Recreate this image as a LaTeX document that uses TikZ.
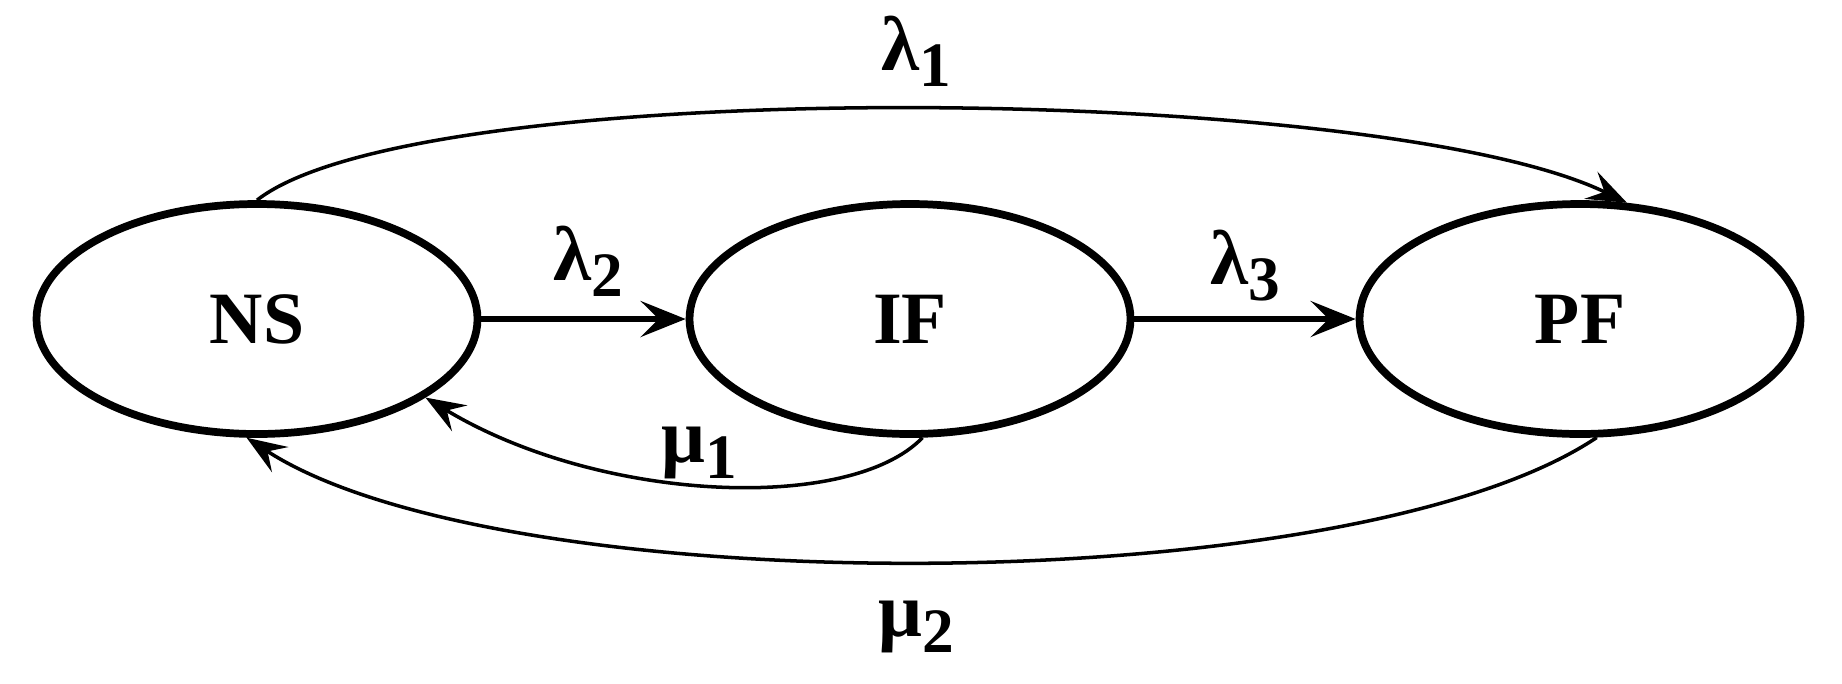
\documentclass[tikz,border=0pt]{standalone}
\usepackage{fontspec}
\setmainfont{Liberation Serif}
\usetikzlibrary{shapes.geometric,arrows.meta}
\newcommand{\lbl}[2]{#1\raisebox{-0.45ex}{\fontsize{18}{20}\selectfont #2}}
\begin{document}
\begin{tikzpicture}[
  state/.style={ellipse,draw,line width=2.2pt,minimum width=4.41cm,minimum height=2.3cm,inner sep=0pt,font=\fontsize{21}{24}\selectfont\bfseries},
  arr/.style={line width=1pt,-{Stealth[length=4mm,width=3mm,inset=1.5mm]}},
  sarr/.style={line width=1.6pt,-{Stealth[length=4.5mm,width=3.6mm,inset=1.8mm]}},
  lab/.style={font=\fontsize{22}{26}\selectfont\bfseries,inner sep=1pt}]
\useasboundingbox (0,0) rectangle (18.42,6.83);
\node[state] (NS) at (2.57,3.64) {NS};
\node[state] (IF) at (9.10,3.64) {IF};
\node[state] (PF) at (15.80,3.64) {PF};
\draw[sarr] (NS.east) -- (IF.west);
\draw[sarr] (IF.east) -- (PF.west);
\draw[arr] (NS.north) .. controls (4.2,6.1) and (13.8,6.0) .. (PF.68);
\draw[arr] (IF.-84) .. controls (8.5,1.7) and (6.0,1.8) .. (NS.-25);
\draw[arr] (PF.-82) .. controls (13.5,0.8) and (5,0.8) .. (NS.-95);
\node[lab] (l1) at (9.16,6.32) {\lbl{λ}{1}};
\node[lab] (l2) at (5.88,4.22) {\lbl{λ}{2}};
\node[lab] (l3) at (12.45,4.17) {\lbl{λ}{3}};
\node[lab] (m1) at (6.99,2.3) {\lbl{μ}{1}};
\node[lab] (m2) at (9.16,0.56) {\lbl{μ}{2}};
\end{tikzpicture}
\end{document}
